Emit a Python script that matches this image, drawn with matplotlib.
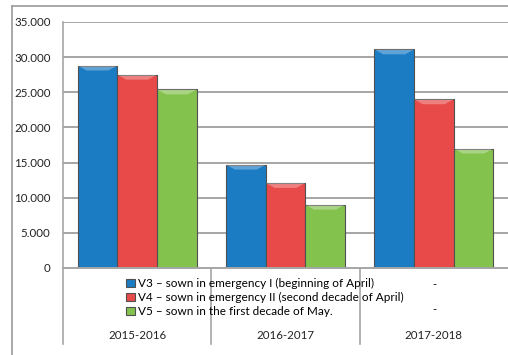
import numpy as np
import matplotlib.pyplot as plt
from matplotlib.patches import Polygon
from matplotlib.ticker import FuncFormatter

plt.rcParams['font.family'] = ['Lato', 'DejaVu Sans']

# data
seasons = ['2015-2016', '2016-2017', '2017-2018']
v3 = [28.8, 14.7, 31.1]
v4 = [27.5, 12.1, 24.0]
v5 = [25.4, 9.0, 17.0]
labels = ['V3 – sown in emergency I (beginning of April)',
          'V4 – sown in emergency II (second decade of April)',
          'V5 – sown in the first decade of May.']
colors = ['#1b7bc3', '#e84a4a', '#84c24e']
grid_c = '#a6a6a6'

fig = plt.figure(figsize=(5.08, 3.55), dpi=100)
ax = fig.add_axes([63/508, 1-268/355, 1-63/508, 246/355])

x = np.arange(len(seasons))
w = 0.267
handles = []
for i, (vals, col) in enumerate(zip([v3, v4, v5], colors)):
    b = ax.bar(x + (i-1)*w, vals, w, color=col, edgecolor='#505050',
               linewidth=0.8, zorder=3, label=labels[i])
    handles.append(b)
    # bevel highlight on top of each bar
    for xi, v in zip(x, vals):
        l = xi + (i-1)*w - w/2
        r = l + w
        d = 0.06
        h = 0.7
        ax.add_patch(Polygon([(l, v), (r, v), (r - d, v - h), (l + d, v - h)],
                             closed=True, facecolor='white', alpha=0.3,
                             zorder=4, lw=0))

ax.set_xlim(-0.5, 2.5)
ax.set_ylim(0, 35)
ax.set_yticks(np.arange(0, 36, 5))
ax.yaxis.set_major_formatter(FuncFormatter(
    lambda v, p: '0' if v == 0 else '{:.3f}'.format(v)))
ax.tick_params(axis='y', length=0, pad=9, labelsize=8.3, colors='#222222')
ax.set_xticks([])
ax.grid(axis='y', color=grid_c, linewidth=1.4, zorder=0)
for s in ['top', 'right', 'bottom']:
    ax.spines[s].set_visible(False)
ax.spines['left'].set_color(grid_c)
ax.spines['left'].set_linewidth(1.2)

# table-like area under the axis
tr = ax.get_xaxis_transform()
ax.plot([-0.5, 2.5], [0, 0], color=grid_c, lw=1.4, transform=tr, clip_on=False, zorder=5)
for xd in [-0.5, 0.5, 1.5]:
    ax.plot([xd, xd], [0, -0.309], color=grid_c, lw=1.2, transform=tr, clip_on=False)
for xi, s in zip(x, seasons):
    ax.text(xi, -0.275, s, transform=tr, ha='center', va='center', fontsize=8.3, color='#222222')
ax.text(434/508, 1-285/355, '-', transform=fig.transFigure, ha='center', va='center', fontsize=8)
ax.text(434/508, 1-310/355, '-', transform=fig.transFigure, ha='center', va='center', fontsize=8)

fig.legend(handles=handles, loc='upper left', bbox_to_anchor=(126/508, 1-278/355),
           frameon=False, fontsize=8.5, handlelength=0.75, handleheight=0.75,
           handletextpad=0.25, labelspacing=0.25, borderpad=0, borderaxespad=0)

# outer frame
fig.add_artist(plt.Line2D([12/508, 12/508], [0, 1-6/355], color='#999999', lw=1.2))
fig.add_artist(plt.Line2D([12/508, 1], [1-6/355, 1-6/355], color='#999999', lw=1.2))

plt.savefig('out.png', dpi=100)
plt.close()
